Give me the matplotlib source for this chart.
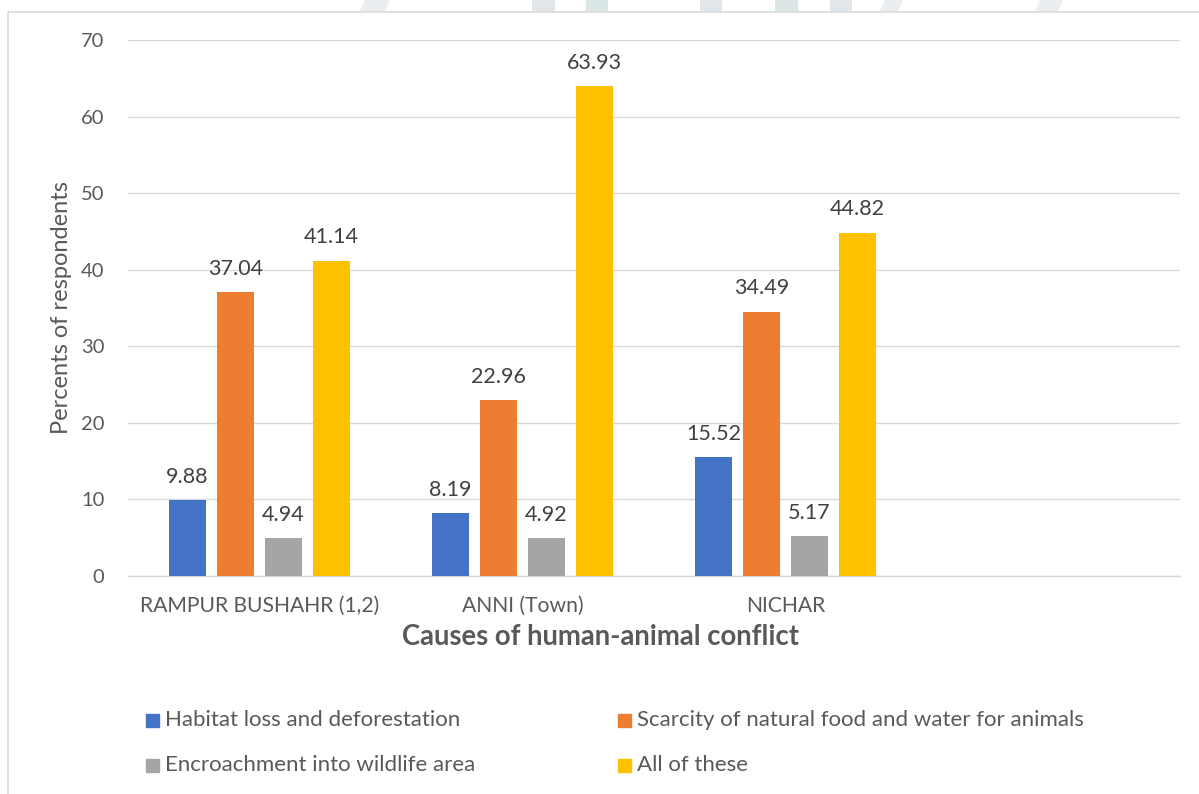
import matplotlib
matplotlib.use("Agg")
import matplotlib.pyplot as plt
from matplotlib.patches import Rectangle, Polygon
from matplotlib.lines import Line2D
import numpy as np

plt.rcParams['font.family'] = ['Lato', 'DejaVu Sans']

# Data
categories = ["RAMPUR BUSHAHR (1,2)", "ANNI (Town)", "NICHAR", ""]
series_names = [
    "Habitat loss and deforestation",
    "Scarcity of natural food and water for animals",
    "Encroachment into wildlife area",
    "All of these",
]
habitat_loss = [9.88, 8.19, 15.52]
scarcity = [37.04, 22.96, 34.49]
encroachment = [4.94, 4.92, 5.17]
all_of_these = [41.14, 63.93, 44.82]
y_ticks = [0, 10, 20, 30, 40, 50, 60, 70]

colors = ["#4472C4", "#ED7D31", "#A5A5A5", "#FFC000"]
text_col = "#595959"
label_col = "#404040"
grid_col = "#D9D9D9"

W, H = 1199, 794
fig = plt.figure(figsize=(W / 100, H / 100), dpi=100)

def fx(px):
    return px / W

def fy(py):
    return 1 - py / H

# Faint header marks above the chart frame
header_cols = ["#E0E6EA", "#DAE6E6"]
header_blocks = [(532, 555), (586, 608), (700, 722), (775, 798), (830, 852)]
for k, (x0, x1) in enumerate(header_blocks):
    fig.patches.append(Rectangle((fx(x0), fy(11)), (x1 - x0) / W, 11 / H,
                                 transform=fig.transFigure,
                                 color=header_cols[k % 2], lw=0))
for (x0, x1) in [(360, 390), (880, 903), (1035, 1063)]:
    fig.patches.append(Polygon([(fx(x0), fy(11)), (fx(x0 + 5), fy(0)),
                                (fx(x1), fy(0)), (fx(x1 - 5), fy(11))],
                               closed=True, transform=fig.transFigure,
                               color="#EAEEF0", lw=0))

# Plot area
left, right, top, bottom = 128, 1180, 40, 576
ax = fig.add_axes([fx(left), fy(bottom), fx(right - left), (bottom - top) / H])

all_series = [habitat_loss, scarcity, encroachment, all_of_these]
step = 48 / 263
width = 37.3 / 263
fs_tick = 14.5
fs_cat = 15.2
fs_val = 15.5
fs_leg = 16
fs_ylab = 17
fs_xlab = 19.8

for i, (vals, col) in enumerate(zip(all_series, colors)):
    xs = np.arange(len(vals)) + (i - 1.5) * step
    ax.bar(xs, vals, width=width, color=col, zorder=3)
    for x, v in zip(xs, vals):
        ax.annotate(f"{v:.2f}", (x, v), xytext=(0, 17.0), textcoords="offset points",
                    ha="center", va="center", fontsize=fs_val, color=label_col)

ax.set_xlim(-0.5, len(categories) - 0.5)
ax.set_ylim(0, 70)
ax.set_yticks(y_ticks)
ax.set_xticks(np.arange(len(categories)))
ax.set_xticklabels(categories)
ax.tick_params(axis="both", length=0, labelcolor=text_col)
ax.tick_params(axis="y", pad=17, labelsize=fs_tick)
ax.tick_params(axis="x", pad=14.5, labelsize=fs_cat)
ax.yaxis.grid(True, color=grid_col, linewidth=1.0, zorder=0)
ax.set_axisbelow(True)
for s in ["top", "right", "left"]:
    ax.spines[s].set_visible(False)
ax.spines["bottom"].set_color(grid_col)
ax.spines["bottom"].set_linewidth(1.0)

ax.set_xlabel("Causes of human-animal conflict", fontsize=fs_xlab, fontweight="bold", color=text_col)
ax.xaxis.set_label_coords((601 - left) / (right - left), -(637 - bottom) / (bottom - top))
ax.xaxis.label.set_va("center")
ax.set_ylabel("Percents of respondents", fontsize=fs_ylab, color=text_col)
ax.yaxis.set_label_coords(-(left - 61) / (right - left), 0.5)
ax.yaxis.label.set_va("center")

# Legend (two columns, two rows)
legend_pos = [(146, 720), (618, 720), (146, 765), (618, 765)]
sq = 13
for (px, py), name, col in zip(legend_pos, series_names, colors):
    fig.patches.append(Rectangle((fx(px), fy(py + sq / 2)), sq / W, sq / H,
                                 transform=fig.transFigure, color=col))
    fig.text(fx(px + sq + 6), fy(py), name, fontsize=fs_leg, color=text_col,
             ha="left", va="center")

# Outer chart frame
fig.lines.append(Line2D([fx(8), fx(8), fx(1205)], [fy(800), fy(12), fy(12)],
                        transform=fig.transFigure, color=grid_col, linewidth=1.2))

fig.savefig("out.png", dpi=100)
